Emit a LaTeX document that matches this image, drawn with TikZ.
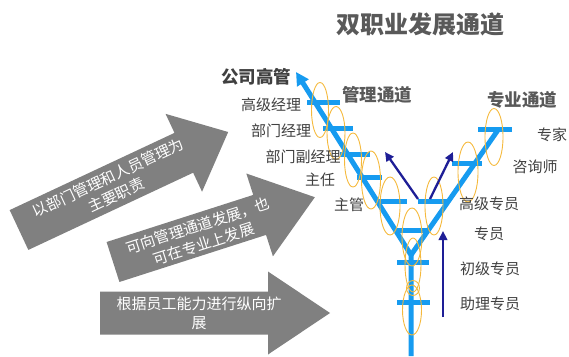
\documentclass[tikz,border=0pt]{standalone}
\usepackage{fontspec}
\setmainfont{Noto Sans CJK SC}
\usetikzlibrary{arrows.meta}
\definecolor{branchblue}{RGB}{22,155,240}
\definecolor{ringorange}{RGB}{245,185,60}
\definecolor{navyblue}{RGB}{30,30,150}
\definecolor{arrowgray}{RGB}{128,128,128}
\definecolor{labelgray}{RGB}{64,64,64}
\definecolor{titlegray}{RGB}{89,89,89}
\newcommand\grayarrowshape[4]{%
  \fill[arrowgray] (0,-#2) -- (#1-#4,-#2) -- (#1-#4,-#3) -- (#1,0) -- (#1-#4,#3) -- (#1-#4,#2) -- (0,#2) -- cycle;}
\begin{document}
\begin{tikzpicture}[x=1pt,y=1pt,
  branchline/.style={draw=branchblue,line width=5pt},
  ringline/.style={draw=ringorange,line width=0.9pt},
  lab/.style={text=labelgray,font=\fontsize{15}{18}\selectfont,inner sep=0pt},
  headlab/.style={text=titlegray,font=\fontsize{17.5}{20}\selectfont\bfseries,inner sep=0pt},
  navyarrow/.style={draw=navyblue,line width=2.3pt,-{Triangle[length=9pt,width=8.5pt]}},
  arrowtext/.style={text=white,font=\fontsize{15}{19}\selectfont,align=center,inner sep=0pt,transform shape}
]
\useasboundingbox (0,0) rectangle (569,356);

% big gray arrows
\begin{scope}[shift={(19,126)},rotate=25.1]
  \grayarrowshape{231}{22}{43}{49}
  \node[arrowtext] (t1) at (103,0) {以部门管理和人员管理为\\主要职责};
\end{scope}
\begin{scope}[shift={(113,94)},rotate=17.8]
  \grayarrowshape{212}{21}{43.5}{58}
  \node[arrowtext] (t2) at (92,-1) {可向管理通道发展，也\\可在专业上发展};
\end{scope}
\begin{scope}[shift={(100,43)}]
  \grayarrowshape{230}{21.5}{41.5}{62}
  \node[arrowtext] (t3) at (99,0) {根据员工能力进行纵向扩\\展};
\end{scope}

% Y structure
\coordinate (J) at (411,101);
\coordinate (T) at (296,284);
\coordinate (R) at (498,226);
\coordinate (S) at (411,0);
\draw[branchline,{Triangle[length=13pt,width=13pt]}-] (T) -- (J) -- (S);
\draw[branchline] (R) -- (J);

% ticks
\draw[branchline] (307,253) -- (340,253);
\draw[branchline] (323,227) -- (353,227);
\draw[branchline] (340,201) -- (370,201);
\draw[branchline] (357,178) -- (382,178);
\draw[branchline] (377,154) -- (407,154);
\draw[branchline] (478,226) -- (512,226);
\draw[branchline] (452,192) -- (482,192);
\draw[branchline] (418,154) -- (448,154);
\draw[branchline] (394,126) -- (429,126);
\draw[branchline] (397,94) -- (429,94);
\draw[branchline] (397,54) -- (430,54);

% rings
\draw[ringline] (320,246) ellipse [x radius=8.5, y radius=27.5];
\draw[ringline] (336,223) ellipse [x radius=9, y radius=26.5];
\draw[ringline] (353,196) ellipse [x radius=8.5, y radius=27];
\draw[ringline] (371,176) ellipse [x radius=9.5, y radius=29];
\draw[ringline] (390,150) ellipse [x radius=10, y radius=29];
\draw[ringline] (412,119) ellipse [x radius=10, y radius=29];
\draw[ringline] (434,150) ellipse [x radius=9, y radius=29];
\draw[ringline] (468,184) ellipse [x radius=10, y radius=30];
\draw[ringline] (494,219) ellipse [x radius=9, y radius=28.5];
\draw[ringline] (413,91) ellipse [x radius=8, y radius=27];
\draw[ringline] (413,68) ellipse [x radius=6.5, y radius=7.5];
\draw[ringline] (412,46) ellipse [x radius=9.5, y radius=25];

% navy arrows
\coordinate (a1s) at (418,157);
\coordinate (a1e) at (385,204);
\coordinate (a2s) at (430,157);
\coordinate (a2e) at (453,204);
\coordinate (a3s) at (443,39);
\coordinate (a3e) at (443,125);
\draw[navyarrow] (a1s) -- (a1e);
\draw[navyarrow] (a2s) -- (a2e);
\draw[navyarrow] (a3s) -- (a3e);

% labels
\node[text=titlegray,font=\fontsize{24}{28}\selectfont\bfseries,inner sep=0pt] (title) at (420,332) {双职业发展通道};
\node[headlab,text=labelgray] (gsgg) at (256,279.5) {公司高管};
\node[headlab] (gltd) at (377,261) {管理通道};
\node[headlab] (zytd) at (522,256.5) {专业通道};
\node[lab] (l1) at (271,251) {高级经理};
\node[lab] (l2) at (281,225) {部门经理};
\node[lab] (l3) at (303,199) {部门副经理};
\node[lab] (l4) at (320,176) {主任};
\node[lab] (l5) at (349,151.5) {主管};
\node[lab] (r1) at (552,221.5) {专家};
\node[lab] (r2) at (535,189.5) {咨询师};
\node[lab] (r3) at (489,152.5) {高级专员};
\node[lab] (r4) at (489,122.5) {专员};
\node[lab] (r5) at (490,87.5) {初级专员};
\node[lab] (r6) at (490,52) {助理专员};
\end{tikzpicture}
\end{document}
